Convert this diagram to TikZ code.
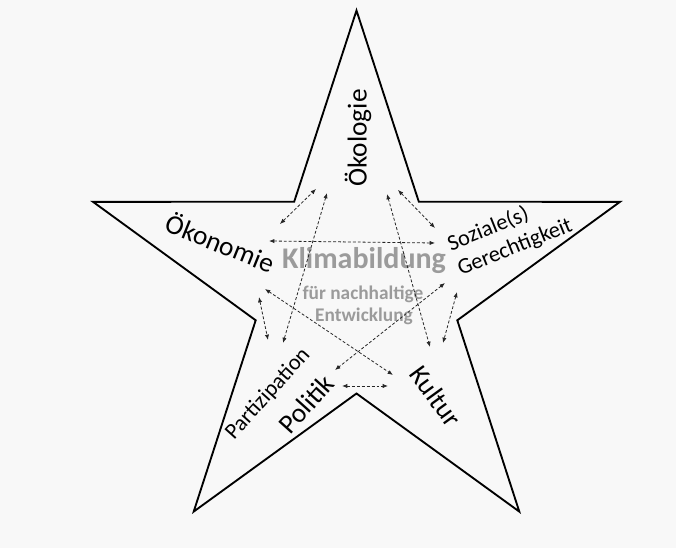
\documentclass[tikz,border=0pt]{standalone}
\usepackage{fontspec}
\setmainfont{Carlito}
\usetikzlibrary{arrows.meta}
\definecolor{kgray}{HTML}{9B9B9B}
\definecolor{kback}{HTML}{F8F8F8}
\tikzset{
  >={Latex[length=4pt,width=3.2pt]},
  kstar/.style={draw=black, line width=1.4pt, line join=miter},
  klink/.style={<->, black!85, line width=0.6pt, dash pattern=on 2.2pt off 1.5pt},
  klbl/.style={font=\fontsize{20.5}{24}\selectfont, inner sep=0pt},
  ksub/.style={font=\fontsize{16.8}{20}\selectfont, inner sep=0pt},
  ktitle/.style={kgray, font=\bfseries\fontsize{22.5}{26}\selectfont, inner sep=0pt},
  ksubtitle/.style={kgray, font=\bfseries\fontsize{14.5}{17}\selectfont, inner sep=0pt},
}

\begin{document}
\begin{tikzpicture}[x=0.75pt,y=-0.75pt]

  % hintergrund
  \fill[kback] (0,0) rectangle (676,548);
  \useasboundingbox (0,0) rectangle (676,548);

  % stern
  \draw[kstar] (356.5,10.5) -- (294.2,201.7) -- (93.1,201.9) -- (255.7,320.3)
    -- (193.7,511.6) -- (356.5,393.5) -- (519.3,511.6) -- (457.3,320.3)
    -- (619.9,201.9) -- (418.8,201.7) -- cycle;

  % dimensionen
  \node[klbl, rotate=90] (oekol) at (358,138) {Ökologie};
  \node[klbl, rotate=-22] (oekon) at (221,242) {Ökonomie};
  \node[ksub, rotate=22, align=left] (sozial) at (510,235) {Soziale(s)\\Gerechtigkeit};
  \node[ksub, rotate=48] (partiz) at (268,394) {Partizipation};
  \node[klbl, rotate=48] (polit) at (306,404) {Politik};
  \node[klbl, rotate=-54] (kultur) at (436,396) {Kultur};

  % mitte
  \node[ktitle] (klima) at (364,261) {Klimabildung};
  \node[ksubtitle] (fuer) at (363,294) {für nachhaltige};
  \node[ksubtitle] (entw) at (364,316) {Entwicklung};

  % pfeilenden
  \coordinate (kol1) at (316,189);
  \coordinate (kol2) at (327,193);
  \coordinate (kol3) at (387,194);
  \coordinate (kol4) at (398,190);
  \coordinate (kon1) at (280,224);
  \coordinate (kon2) at (269,241);
  \coordinate (kon3) at (265,289);
  \coordinate (kon4) at (259,297);
  \coordinate (soz1) at (435,228);
  \coordinate (soz2) at (435,243);
  \coordinate (soz3) at (445,283);
  \coordinate (soz4) at (457,292);
  \coordinate (pol1) at (283,343);
  \coordinate (pol2) at (268,340);
  \coordinate (pol3) at (335,370);
  \coordinate (pol4) at (342,386);
  \coordinate (kul1) at (430,347);
  \coordinate (kul2) at (393,375);
  \coordinate (kul3) at (443,343);
  \coordinate (kul4) at (388,386);

  % wechselwirkungen
  \foreach \a/\b in {kon1/kol1, kol2/pol1, kol3/kul1, kol4/soz1, kon2/soz2,
                     kon3/kul2, kon4/pol2, soz3/pol3, soz4/kul3, pol4/kul4}
    \draw[klink] (\a) -- (\b);

\end{tikzpicture}
\end{document}
